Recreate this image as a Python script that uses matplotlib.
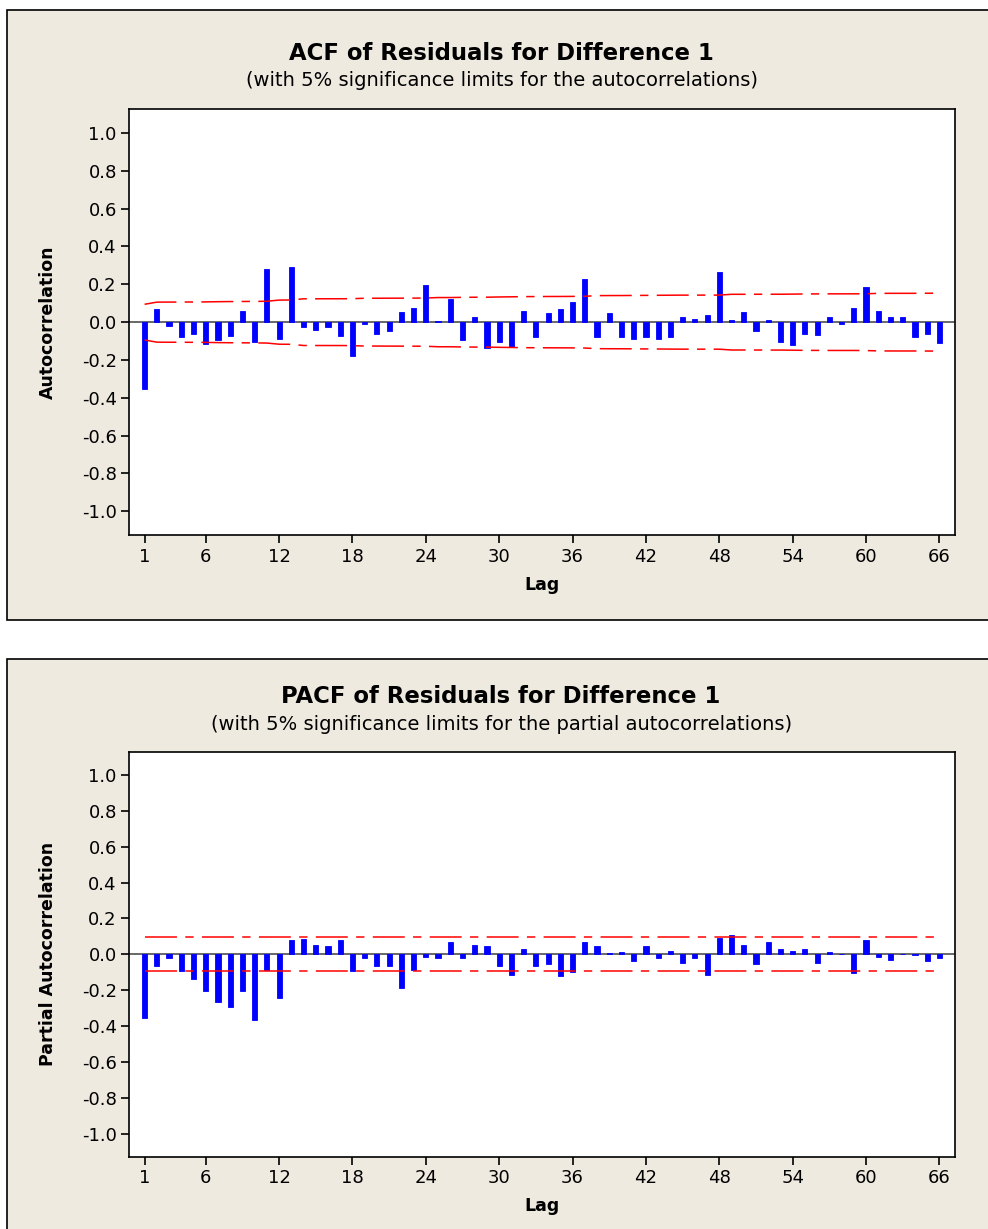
import numpy as np
import matplotlib
matplotlib.use("Agg")
import matplotlib.pyplot as plt
from matplotlib.patches import Rectangle

plt.rcParams['font.family'] = ['DejaVu Sans']
plt.rcParams['axes.unicode_minus'] = False
plt.rcParams['lines.scale_dashes'] = False

# ---------------- data ----------------
lags = list(range(1, 67))
acf_values = [
    -0.355, 0.070, -0.021, -0.079, -0.061, -0.114, -0.096, -0.072, 0.061, -0.105,
    0.279, -0.089, 0.289, -0.028, -0.039, -0.028, -0.074, -0.181, -0.012, -0.063,
    -0.046, 0.054, 0.077, 0.196, 0.007, 0.125, -0.095, 0.026, -0.139, -0.104,
    -0.130, 0.061, -0.079, 0.046, 0.070, 0.104, 0.228, -0.079, 0.046, -0.079,
    -0.088, -0.079, -0.088, -0.079, 0.026, 0.018, 0.037, 0.263, 0.011, 0.053,
    -0.046, 0.011, -0.104, -0.121, -0.063, -0.070, 0.026, -0.012, 0.077, 0.188,
    0.061, 0.026, 0.026, -0.079, -0.063, -0.112,
]
pacf_values = [
    -0.356, -0.063, -0.020, -0.094, -0.139, -0.204, -0.263, -0.296, -0.204, -0.363,
    -0.089, -0.241, 0.078, 0.087, 0.054, 0.044, 0.078, -0.094, -0.020, -0.063,
    -0.063, -0.189, -0.087, -0.013, -0.020, 0.070, -0.020, 0.054, 0.044, -0.063,
    -0.115, 0.028, -0.063, -0.054, -0.122, -0.096, 0.070, 0.044, 0.005, 0.011,
    -0.037, 0.044, -0.020, 0.020, -0.046, -0.020, -0.113, 0.089, 0.106, 0.054,
    -0.054, 0.070, 0.028, 0.020, 0.028, -0.046, 0.011, 0.003, -0.104, 0.078,
    -0.013, -0.030, 0.004, -0.004, -0.037, -0.020,
]
n_obs = 430  # series length implied by the 5% limits
x_ticks = [1, 6, 12, 18, 24, 30, 36, 42, 48, 54, 60, 66]
y_ticks = [1.0, 0.8, 0.6, 0.4, 0.2, 0.0, -0.2, -0.4, -0.6, -0.8, -1.0]

# significance limits
acf_arr = np.array(acf_values)
cum = np.concatenate([[0.0], np.cumsum(acf_arr[:-1] ** 2)])
acf_limit = 1.96 * np.sqrt((1 + 2 * cum) / n_obs)
pacf_limit = np.full(len(lags), 1.96 / np.sqrt(n_obs))

# ---------------- layout ----------------
W, H = 988, 1229
fig = plt.figure(figsize=(W / 100, H / 100), dpi=100)
fig.patch.set_facecolor('white')

BG = '#EEEAE0'
AX_L, AX_R = 129.3, 954.7


def fx(px):
    return px / W


def fy(py):
    return 1 - py / H


def panel(top, bottom):
    r = Rectangle((fx(7), fy(bottom)), fx(1000) - fx(7), fy(top) - fy(bottom),
                  transform=fig.transFigure, facecolor=BG, edgecolor='black',
                  linewidth=1.2, zorder=-5)
    fig.patches.append(r)


def make_axes(top, bottom):
    ax = fig.add_axes([fx(AX_L), fy(bottom), fx(AX_R) - fx(AX_L), fy(top) - fy(bottom)])
    ax.set_zorder(1)
    return ax


def draw(ax, values, limits, ylabel, top, bottom):
    ax.set_facecolor('white')
    ax.axhline(0, color='#404040', linewidth=1.1, zorder=2)
    ax.bar(lags, values, width=0.42, color='#0000FF', edgecolor='#0000FF',
           linewidth=0.6, zorder=3)
    dash = [23, 6, 6, 6]
    l1, = ax.plot(lags, limits, color='#FF0000', linewidth=1.1, zorder=4)
    l2, = ax.plot(lags, -np.array(limits), color='#FF0000', linewidth=1.1, zorder=4)
    l1.set_dashes(dash)
    l2.set_dashes(dash)
    ax.set_xlim(-0.25, 67.25)
    ax.set_ylim(-1.127, 1.127)
    ax.set_xticks(x_ticks)
    ax.set_yticks(y_ticks)
    ax.set_yticklabels([f'{v:.1f}' for v in y_ticks])
    ax.tick_params(axis='both', direction='out', length=6, width=1.2,
                   labelsize=13, colors='black', pad=3)
    for s in ax.spines.values():
        s.set_linewidth(1.2)
        s.set_color('black')
    h = bottom - top
    w = AX_R - AX_L
    ax.set_xlabel('Lag', fontsize=12.5, fontweight='bold', va='center')
    ax.xaxis.set_label_coords(0.5, -(585 - 535.3) / h)
    ax.set_ylabel(ylabel, fontsize=12.5, fontweight='bold', va='center')
    ax.yaxis.set_label_coords(-(AX_L - 48) / w, 0.5)


panel(10, 620)
panel(659, 1240)

ax1 = make_axes(109, 535.3)
draw(ax1, acf_values, acf_limit, 'Autocorrelation', 109, 535.3)
ax2 = make_axes(752, 1156.7)
draw(ax2, pacf_values, pacf_limit, 'Partial Autocorrelation', 752, 1156.7)

fig.text(fx(501), fy(53), 'ACF of Residuals for Difference 1', ha='center', va='center',
         fontsize=16.4, fontweight='bold')
fig.text(fx(502), fy(81), '(with 5% significance limits for the autocorrelations)',
         ha='center', va='center', fontsize=14)
fig.text(fx(501), fy(697), 'PACF of Residuals for Difference 1', ha='center', va='center',
         fontsize=16.4, fontweight='bold')
fig.text(fx(502), fy(725), '(with 5% significance limits for the partial autocorrelations)',
         ha='center', va='center', fontsize=14)

fig.savefig('out.png', dpi=100)
